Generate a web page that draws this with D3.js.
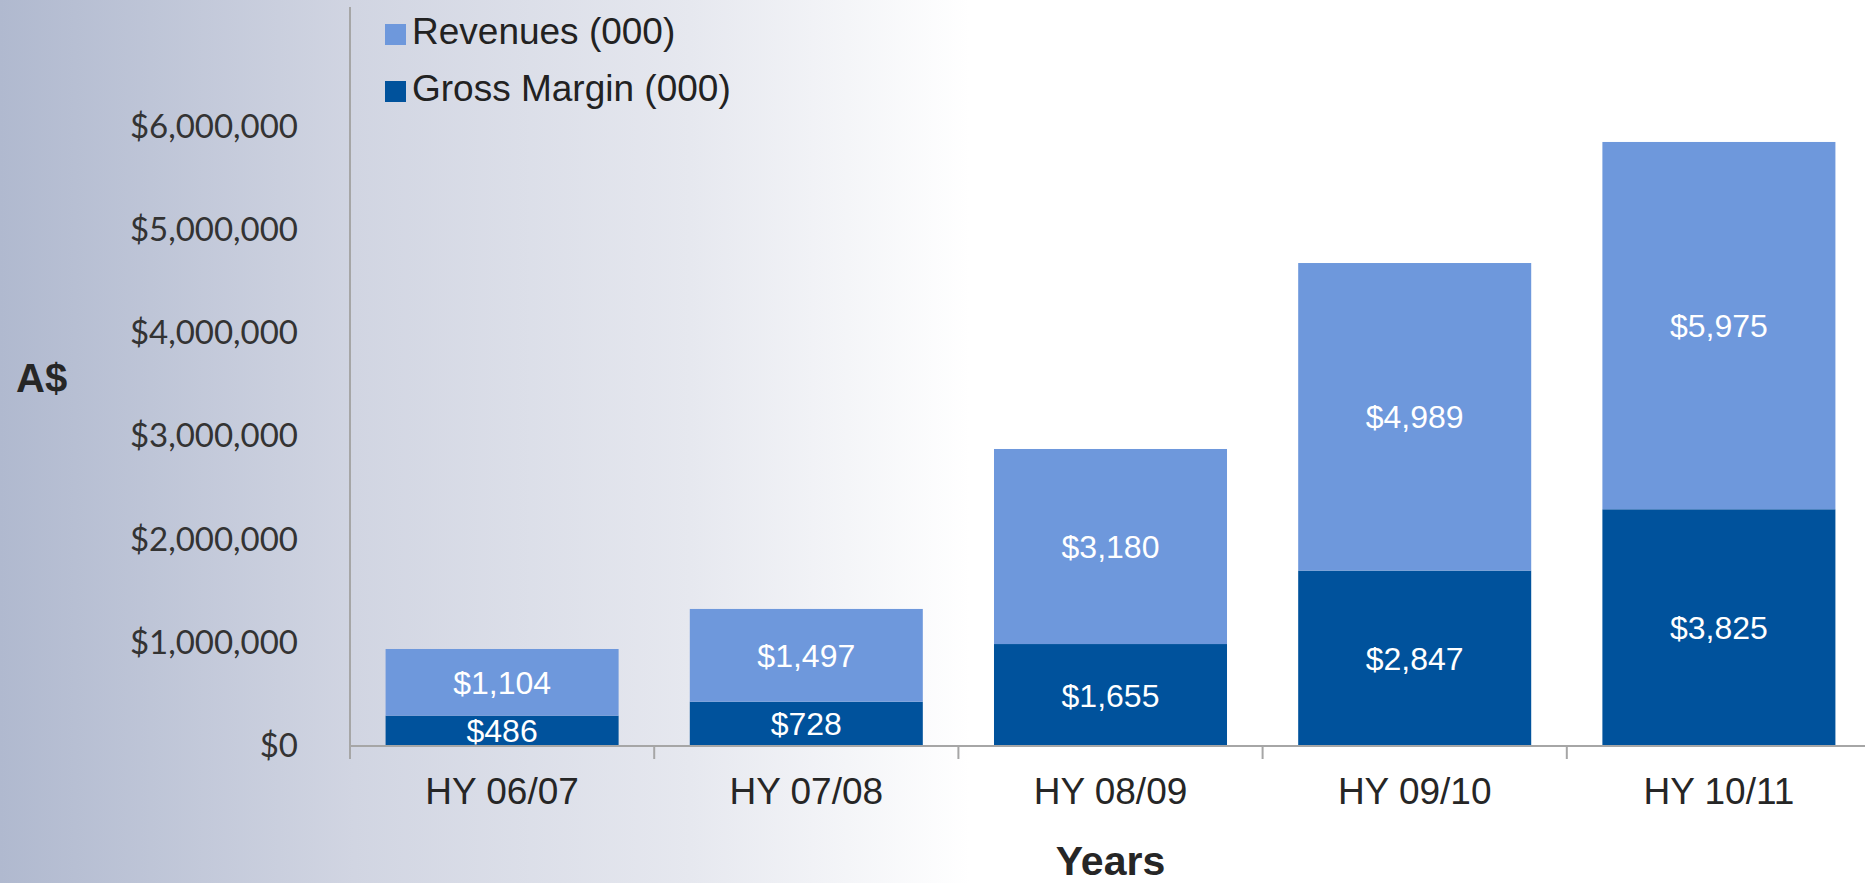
<!DOCTYPE html>
<html lang="en">
<head>
  <meta charset="UTF-8">
  <title>Revenues and Gross Margin</title>
  <script src="https://d3js.org/d3.v7.min.js"></script>
  <style>
    body { margin: 0; background: #fff; }
    svg { display: block; }
  </style>
</head>
<body>
  <div id="chart"></div>
  <script>
    // data
    var categories = ["HY 06/07", "HY 07/08", "HY 08/09", "HY 09/10", "HY 10/11"];
    var grossMargin = [294000, 429000, 988000, 1700000, 2294000];
    var revenues = [646000, 899000, 1890000, 2980000, 3559000];
    var gmLabels = ["$486", "$728", "$1,655", "$2,847", "$3,825"];
    var revLabels = ["$1,104", "$1,497", "$3,180", "$4,989", "$5,975"];
    var yTicks = [0, 1000000, 2000000, 3000000, 4000000, 5000000, 6000000];
    var seriesNames = ["Revenues (000)", "Gross Margin (000)"];

    var width = 1865, height = 883;
    var left = 350, right = 1871, bottom = 746;

    var svg = d3.select("#chart").append("svg")
      .attr("width", width)
      .attr("height", height);

    // background gradient
    var grad = svg.append("defs").append("linearGradient")
      .attr("id", "bg").attr("x1", 0).attr("x2", 1).attr("y1", 0).attr("y2", 0);
    grad.append("stop").attr("offset", "0").attr("stop-color", "#b0b9cf");
    grad.append("stop").attr("offset", "0.19").attr("stop-color", "#d1d5e2");
    grad.append("stop").attr("offset", "0.37").attr("stop-color", "#e6e8ef");
    grad.append("stop").attr("offset", "0.52").attr("stop-color", "#ffffff");
    svg.append("rect").attr("width", width).attr("height", height).attr("fill", "url(#bg)");

    var x = d3.scaleBand()
      .domain(categories)
      .range([left, right])
      .paddingInner(0.234)
      .paddingOuter(0.117);

    var y = d3.scaleLinear()
      .domain([0, 7000000])
      .range([bottom, bottom - 7 * 103.2]);

    var rows = categories.map(function (c, i) {
      return { cat: c, gm: grossMargin[i], rev: revenues[i], i: i };
    });
    var stack = d3.stack().keys(["gm", "rev"]);
    var layers = stack(rows);
    var colors = { gm: "#00529c", rev: "#6e98dc" };
    var labels = { gm: gmLabels, rev: revLabels };

    // bars
    var g = svg.append("g");
    layers.forEach(function (layer) {
      g.selectAll(".bar-" + layer.key)
        .data(layer)
        .enter().append("rect")
        .attr("x", d => x(d.data.cat))
        .attr("width", x.bandwidth())
        .attr("y", d => y(d[1]))
        .attr("height", d => y(d[0]) - y(d[1]))
        .attr("fill", colors[layer.key]);

      g.selectAll(".lab-" + layer.key)
        .data(layer)
        .enter().append("text")
        .attr("x", d => x(d.data.cat) + x.bandwidth() / 2)
        .attr("y", d => (y(d[0]) + y(d[1])) / 2)
        .attr("dy", "0.36em")
        .attr("text-anchor", "middle")
        .attr("fill", "#ffffff")
        .style("font-family", "'Liberation Sans', Arial, sans-serif")
        .style("font-size", "32px")
        .text(d => labels[layer.key][d.data.i]);
    });

    // y axis
    var yAxis = svg.append("g")
      .attr("transform", "translate(" + (left - 52) + ",0)")
      .call(d3.axisLeft(y).tickValues(yTicks).tickSize(0).tickPadding(0)
        .tickFormat(d => "$" + d3.format(",")(d)));
    yAxis.select(".domain").remove();
    yAxis.selectAll("text")
      .attr("fill", "#333")
      .style("font-family", "Lato, 'Open Sans', sans-serif")
      .style("font-size", "33px");

    svg.append("line")
      .attr("x1", left).attr("x2", left)
      .attr("y1", 7).attr("y2", bottom)
      .attr("stroke", "#a6a6a6").attr("stroke-width", 2);

    // x axis
    svg.append("line")
      .attr("x1", left).attr("x2", width)
      .attr("y1", bottom).attr("y2", bottom)
      .attr("stroke", "#a6a6a6").attr("stroke-width", 2);
    svg.selectAll(".xtick")
      .data(d3.range(categories.length + 1))
      .enter().append("line")
      .attr("x1", d => left + d * x.step())
      .attr("x2", d => left + d * x.step())
      .attr("y1", bottom).attr("y2", bottom + 13)
      .attr("stroke", "#a6a6a6").attr("stroke-width", 2);
    svg.selectAll(".xlab")
      .data(categories)
      .enter().append("text")
      .attr("x", d => x(d) + x.bandwidth() / 2)
      .attr("y", 804)
      .attr("text-anchor", "middle")
      .attr("fill", "#262626")
      .style("font-family", "'Liberation Sans', Arial, sans-serif")
      .style("font-size", "37px")
      .text(d => d);

    // axis titles
    svg.append("text")
      .attr("x", (left + right) / 2)
      .attr("y", 875)
      .attr("text-anchor", "middle")
      .attr("fill", "#262626")
      .style("font-family", "'Liberation Sans', Arial, sans-serif")
      .style("font-size", "41px")
      .style("font-weight", "bold")
      .text("Years");
    svg.append("text")
      .attr("x", 16)
      .attr("y", 392)
      .attr("fill", "#262626")
      .style("font-family", "'Liberation Sans', Arial, sans-serif")
      .style("font-size", "40px")
      .style("font-weight", "bold")
      .text("A$");

    // legend
    var legend = svg.append("g").attr("transform", "translate(385,24)");
    var legendColors = [colors.rev, colors.gm];
    seriesNames.forEach(function (name, i) {
      legend.append("rect")
        .attr("x", 0).attr("y", i * 57)
        .attr("width", 21).attr("height", 21)
        .attr("fill", legendColors[i]);
      legend.append("text")
        .attr("x", 27).attr("y", i * 57 + 20)
        .attr("fill", "#222")
        .style("font-family", "'Liberation Sans', Arial, sans-serif")
        .style("font-size", "37px")
        .text(name);
    });
  </script>
</body>
</html>
